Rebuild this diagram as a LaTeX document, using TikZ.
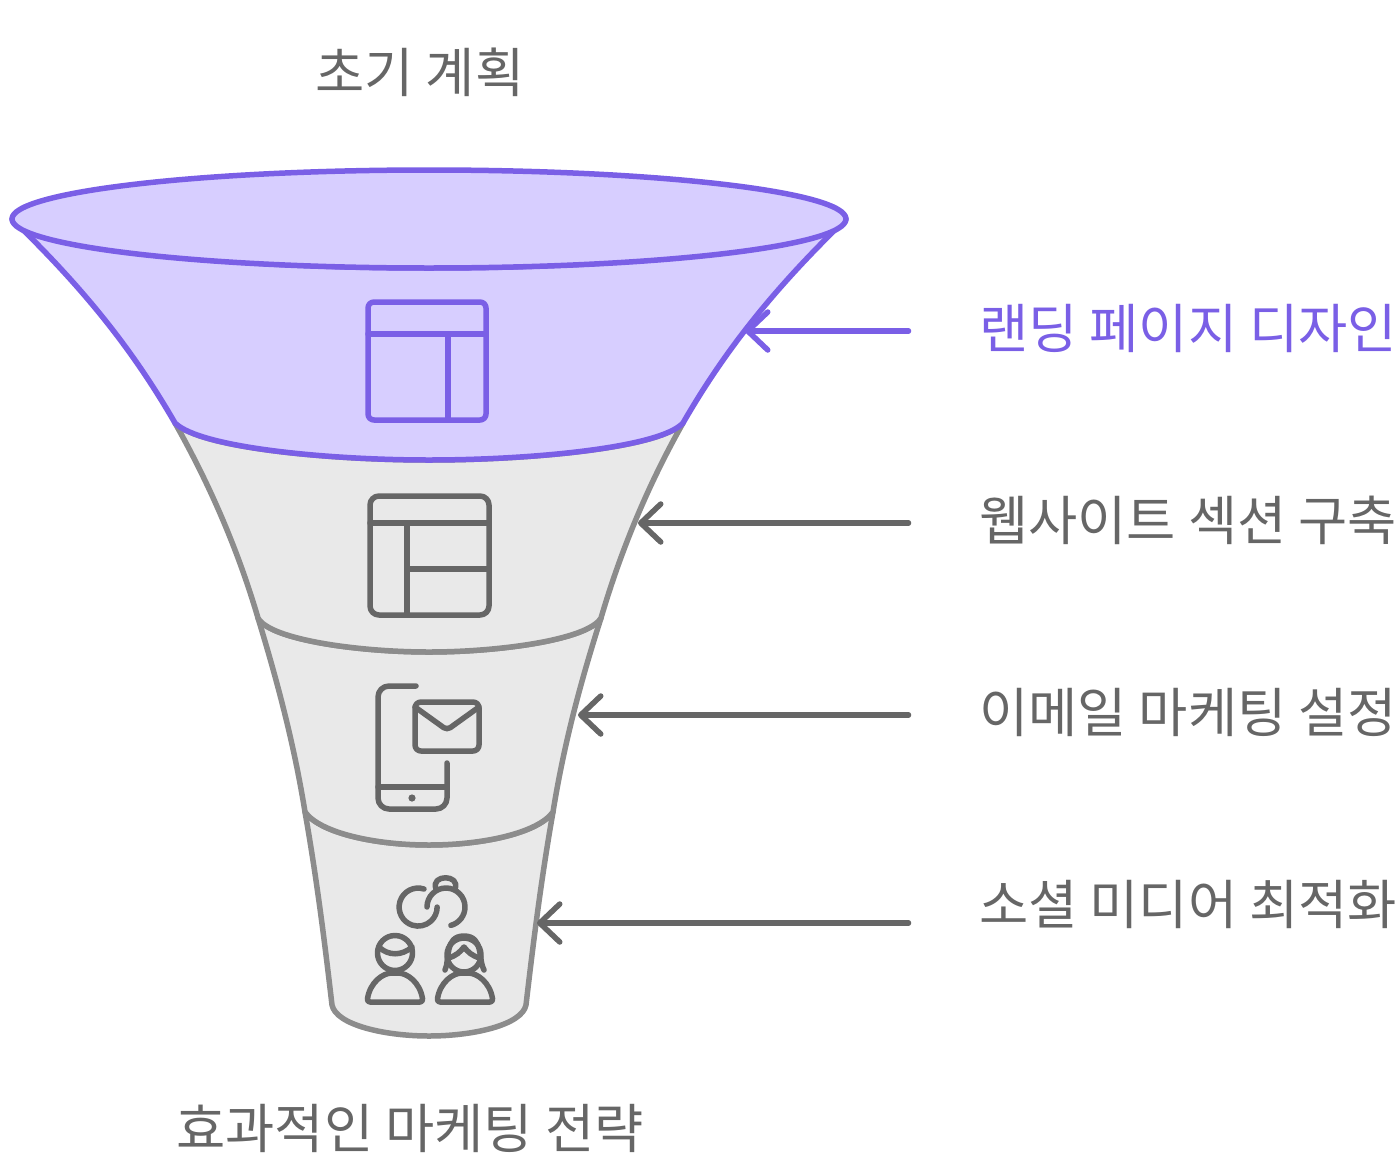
\documentclass[tikz,border=0pt]{standalone}
\usepackage{fontspec}
\usetikzlibrary{arrows.meta}
\newfontfamily\krfont{Noto Sans CJK KR}
\definecolor{pur}{HTML}{7A5FE6}
\definecolor{purfill}{HTML}{D7CEFF}
\definecolor{gline}{HTML}{8C8C8C}
\definecolor{gfill}{HTML}{E9E9E9}
\definecolor{gtext}{HTML}{666666}
\tikzset{
  x=1pt,y=-1pt,
  funnelp/.style={line width=5.5pt,draw=pur,fill=purfill,line join=round},
  funnelg/.style={line width=5.5pt,draw=gline,fill=gfill,line join=round},
  iconp/.style={line width=5.5pt,draw=pur,line cap=round,line join=round},
  icong/.style={line width=5.5pt,draw=gtext,line cap=round,line join=round},
  lbl/.style={font=\krfont\fontsize{53.5}{60}\selectfont,text=gtext,inner sep=0pt,anchor=west},
  ttl/.style={font=\krfont\fontsize{53.5}{60}\selectfont,text=gtext,inner sep=0pt,anchor=center},
  arrg/.style={line width=5.5pt,draw=gtext,line cap=round,-{Straight Barb[length=20pt,width=38pt,line width=5.5pt,round]}},
  arrp/.style={line width=5.5pt,draw=pur,line cap=round,-{Straight Barb[length=20pt,width=38pt,line width=5.5pt,round]}},
}
\begin{document}
\begin{tikzpicture}
\useasboundingbox (0,0) rectangle (1397,1159);
% funnel sections (bottom up)
\path[funnelg] (305,812) .. controls (317,880) and (325,945) .. (332,1005)
  .. controls (336,1025) and (385,1036) .. (429,1036)
  .. controls (473,1036) and (522,1025) .. (526,1005)
  .. controls (533,945) and (541,880) .. (553,812)
  .. controls (538,833) and (483,845) .. (429,845)
  .. controls (375,845) and (320,833) .. (305,812) -- cycle;
\path[funnelg] (258,618) .. controls (280,690) and (295,750) .. (305,812)
  .. controls (320,833) and (375,845) .. (429,845)
  .. controls (483,845) and (538,833) .. (553,812)
  .. controls (563,750) and (578,690) .. (601,618)
  .. controls (588,640) and (498,652) .. (429,652)
  .. controls (360,652) and (270,640) .. (258,618) -- cycle;
\path[funnelg] (175,423) .. controls (210,485) and (238,550) .. (258,618)
  .. controls (270,640) and (360,652) .. (429,652)
  .. controls (498,652) and (588,640) .. (601,618)
  .. controls (621,550) and (648,485) .. (683,423)
  .. controls (660,448) and (530,460) .. (429,460)
  .. controls (330,460) and (200,448) .. (175,423) -- cycle;
\path[funnelp] (12,219) .. controls (80,285) and (130,345) .. (175,423)
  .. controls (200,448) and (330,460) .. (429,460)
  .. controls (530,460) and (660,448) .. (683,423)
  .. controls (728,345) and (778,285) .. (846,219)
  .. controls (840,245) and (650,268) .. (429,268)
  .. controls (208,268) and (18,245) .. (12,219) -- cycle;
\path[funnelp] (429,219) ellipse [x radius=417, y radius=49];
% icon 1
\draw[iconp,rounded corners=6pt] (368,302) rectangle (486,420);
\draw[iconp] (368,334) -- (486,334);
\draw[iconp] (448,334) -- (448,420);
% icon 2
\draw[icong,rounded corners=9pt] (370,496) rectangle (489,615);
\draw[icong] (370,523) -- (489,523);
\draw[icong] (407,523) -- (407,615);
\draw[icong] (407,569) -- (489,569);
% icon 3
\draw[icong,rounded corners=11pt] (416,686) -- (378,686) -- (378,809) -- (447,809) -- (447,763);
\draw[icong] (378,787) -- (447,787);
\fill[gtext] (412,798) circle (3.6);
\draw[icong,rounded corners=6pt] (415,702) rectangle (479,751);
\draw[icong,rounded corners=4pt] (415,707) -- (447,730) -- (479,707);
% icon 4
\draw[icong] (424,889) arc[start angle=72,end angle=360,radius=19pt];
\draw[icong] (427,907) arc[start angle=180,end angle=-75,radius=19pt];
\draw[icong] (436,889) .. controls (430,874) and (461,874) .. (455,889);
% people
\draw[icong] (395,953) circle (17.5);
\draw[icong] (379,947) .. controls (388,956) and (402,956) .. (412,947);
\draw[icong,rounded corners=3pt] (367,1002) .. controls (370,982) and (383,973) .. (395,973) .. controls (407,973) and (420,982) .. (423,1002) -- cycle;
\draw[icong] (464,955) circle (17);
\draw[icong] (448,958) .. controls (456,956) and (460,952) .. (464,947) .. controls (468,952) and (472,956) .. (480,958);
\draw[icong] (445,970) .. controls (450,960) and (444,936) .. (464,936) .. controls (484,936) and (478,960) .. (484,970);
\draw[icong,rounded corners=3pt] (437,1002) .. controls (440,982) and (453,973) .. (465,973) .. controls (477,973) and (490,982) .. (493,1002) -- cycle;
% labels
\node[ttl] (top) at (420,72.5) {초기 계획};
\node[ttl] (bottom) at (410,1128.5) {효과적인 마케팅 전략};
\node[lbl,text=pur] (l1) at (979,328.5) {랜딩 페이지 디자인};
\node[lbl] (l2) at (979,520.5) {웹사이트 섹션 구축};
\node[lbl] (l3) at (979,712.5) {이메일 마케팅 설정};
\node[lbl] (l4) at (979,904.5) {소셜 미디어 최적화};
% connectors
\coordinate (s1) at (908.5,331); \coordinate (e1) at (745,331);
\coordinate (s2) at (908.5,523); \coordinate (e2) at (638,523);
\coordinate (s3) at (908.5,715); \coordinate (e3) at (578,715);
\coordinate (s4) at (908.5,923); \coordinate (e4) at (537,923);
\draw[arrp] (s1) -- (e1);
\draw[arrg] (s2) -- (e2);
\draw[arrg] (s3) -- (e3);
\draw[arrg] (s4) -- (e4);
\end{tikzpicture}
\end{document}
